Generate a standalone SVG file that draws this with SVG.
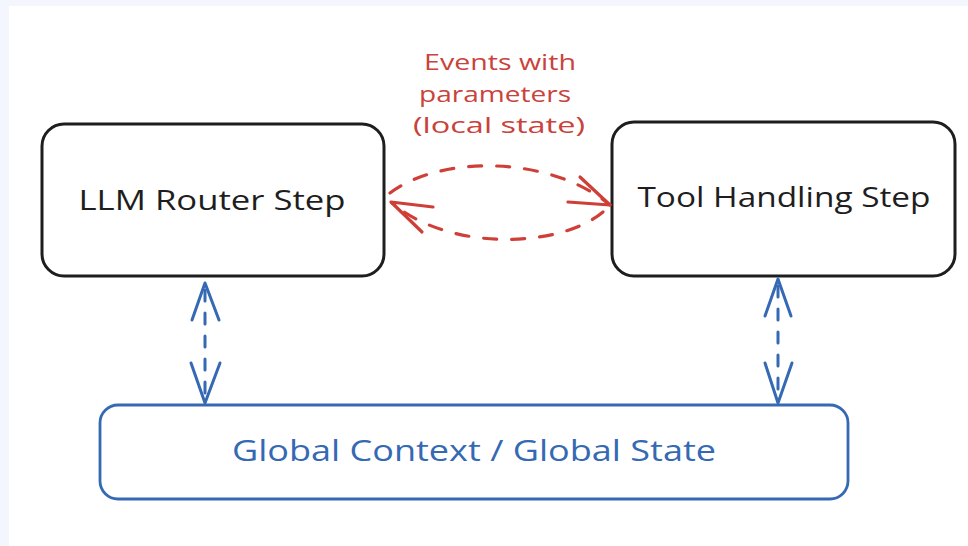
<svg xmlns="http://www.w3.org/2000/svg" width="968" height="546" viewBox="0 0 968 546">
  <style>
    .label { font-family: "Open Sans", "Liberation Sans", sans-serif; text-anchor: middle; }
    .box { fill: #ffffff; stroke: #1e1e1e; stroke-width: 3; }
    .box-blue { fill: #ffffff; stroke: #3569b4; stroke-width: 2.8; }
    .dash-red { fill: none; stroke: #cf3f37; stroke-width: 3.2; stroke-linecap: round; stroke-dasharray: 13 15; }
    .head-red { fill: none; stroke: #cf3f37; stroke-width: 3.2; stroke-linecap: round; stroke-linejoin: round; }
    .dash-blue { fill: none; stroke: #3569b4; stroke-width: 3; stroke-linecap: round; stroke-dasharray: 11 12; }
    .head-blue { fill: none; stroke: #3569b4; stroke-width: 3; stroke-linecap: round; stroke-linejoin: round; }
  </style>

  <!-- page frame -->
  <rect x="0" y="0" width="968" height="546" fill="#f3f6fd"/>
  <rect x="9" y="6" width="959" height="540" fill="#ffffff"/>

  <!-- event label -->
  <g id="events-label" class="label" fill="#c9423b" font-size="22" font-weight="500">
    <text x="500" y="70" textLength="152" lengthAdjust="spacingAndGlyphs">Events with</text>
    <text x="495" y="102" textLength="152" lengthAdjust="spacingAndGlyphs">parameters</text>
    <text x="499" y="133" textLength="172" lengthAdjust="spacingAndGlyphs">(local state)</text>
  </g>

  <g id="llm-router">
    <rect class="box" x="42" y="124" width="342" height="152" rx="22"/>
    <text class="label" x="212" y="210" font-size="28" font-weight="500" fill="#1e1e1e" textLength="267" lengthAdjust="spacingAndGlyphs">LLM Router Step</text>
  </g>

  <g id="tool-handling">
    <rect class="box" x="612" y="122" width="343" height="154" rx="22"/>
    <text class="label" x="784" y="207" font-size="28" font-weight="500" fill="#1e1e1e" textLength="293" lengthAdjust="spacingAndGlyphs">Tool Handling Step</text>
  </g>

  <g id="global-state">
    <rect class="box-blue" x="100" y="405" width="748" height="94" rx="18"/>
    <text class="label" x="474" y="461" font-size="29" font-weight="500" fill="#3569b4" textLength="484" lengthAdjust="spacingAndGlyphs">Global Context / Global State</text>
  </g>

  <g id="connectors">
    <!-- router to tool handler -->
    <path class="dash-red" d="M390,193 C440,155 550,155 610,205"/>
    <path class="head-red" d="M580,177 L610,205 L568,202"/>
    <!-- tool handler back to router -->
    <path class="dash-red" d="M603,212 C560,248 450,252 392,203"/>
    <path class="head-red" d="M433,207 L391,202 L422,232"/>

    <!-- router <-> global state -->
    <path class="dash-blue" d="M205,290 L205,398"/>
    <path class="head-blue" d="M192,320 L205,283 L219,320"/>
    <path class="head-blue" d="M191,363 L205,403 L220,363"/>

    <!-- tool handler <-> global state -->
    <path class="dash-blue" d="M778,286 L778,398"/>
    <path class="head-blue" d="M765,316 L778,279 L791,316"/>
    <path class="head-blue" d="M765,363 L778,403 L792,363"/>
  </g>
</svg>
